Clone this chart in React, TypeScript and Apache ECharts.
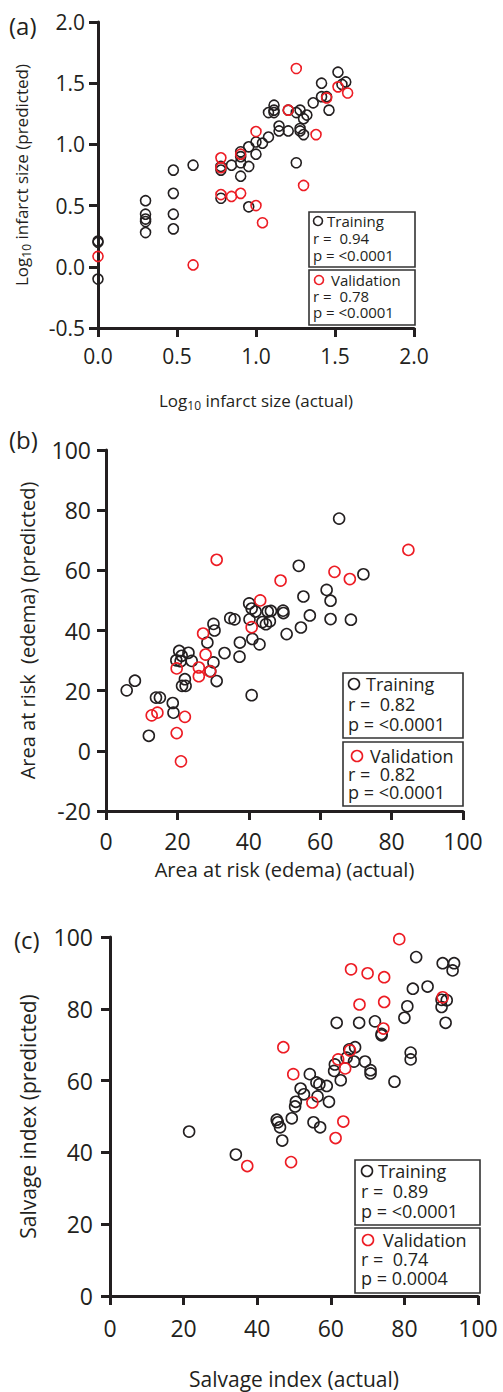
import React, { useEffect, useRef } from "react";
import * as echarts from "echarts";

const BLACK = "#231f20";
const RED = "#ed1c24";
const FONT = "'Open Sans', Lato, sans-serif";

const panelLabels = ["(a)", "(b)", "(c)"];

// ---------- Panel (a): log10 infarct size ----------
const aXTicks = [0, 0.5, 1.0, 1.5, 2.0];
const aYTicks = [-0.5, 0, 0.5, 1.0, 1.5, 2.0];
const aTraining: [number, number][] = [
  [0, 0.21], [0, 0.2], [0, -0.1],
  [0.301, 0.54], [0.301, 0.43], [0.301, 0.39], [0.301, 0.37], [0.301, 0.28],
  [0.477, 0.79], [0.477, 0.6], [0.477, 0.43], [0.477, 0.31],
  [0.602, 0.83],
  [0.778, 0.82], [0.778, 0.79], [0.778, 0.56],
  [0.845, 0.83],
  [0.903, 0.94], [0.903, 0.9], [0.903, 0.85], [0.903, 0.74],
  [0.954, 0.82], [0.954, 0.98], [0.954, 0.49],
  [1.0, 0.92], [1.0, 1.02], [1.041, 1.01], [1.079, 1.06], [1.079, 1.26],
  [1.114, 1.32], [1.114, 1.28], [1.114, 1.26],
  [1.146, 1.15], [1.146, 1.11], [1.204, 1.11], [1.204, 1.28],
  [1.255, 1.26], [1.279, 1.28], [1.301, 1.21], [1.322, 1.24],
  [1.279, 1.13], [1.279, 1.11], [1.301, 1.08], [1.255, 0.85],
  [1.362, 1.34], [1.415, 1.5], [1.415, 1.39], [1.447, 1.39], [1.462, 1.28],
  [1.519, 1.59], [1.544, 1.49], [1.568, 1.51],
];
const aValidation: [number, number][] = [
  [0, 0.085], [0.602, 0.015], [0.778, 0.59], [0.845, 0.575], [0.903, 0.6],
  [1.0, 0.5], [1.041, 0.36], [1.301, 0.665], [0.778, 0.89], [0.778, 0.81],
  [0.903, 0.92], [1.0, 1.105], [1.204, 1.28], [1.255, 1.62], [1.38, 1.08],
  [1.447, 1.38], [1.519, 1.47], [1.58, 1.42],
];
const aStats = { trainR: "0.94", trainP: "<0.0001", valR: "0.78", valP: "<0.0001" };

// ---------- Panel (b): area at risk ----------
const bXTicks = [0, 20, 40, 60, 80, 100];
const bYTicks = [-20, 0, 20, 40, 60, 80, 100];
const bTraining: [number, number][] = [
  [5.8, 20.1], [8.1, 23.3], [12.0, 5.0], [14.0, 17.7], [15.1, 17.7], [18.7, 15.9],
  [18.9, 12.7], [19.7, 30.1], [20.5, 33.2], [20.9, 29.8], [21.2, 31.6], [21.3, 21.6],
  [22.3, 21.6], [22.1, 23.8], [23.1, 32.6], [24.0, 29.9], [28.4, 36.0], [29.2, 26.5],
  [30.1, 29.4], [31.0, 23.2], [30.1, 42.2], [30.4, 40.0], [33.2, 32.5], [34.8, 44.1],
  [36.0, 43.7], [37.5, 36.0], [37.4, 31.3], [40.1, 49.0], [40.8, 47.3], [41.9, 46.3],
  [40.2, 43.7], [41.0, 37.2], [43.0, 35.4], [40.8, 18.5], [43.8, 42.8], [44.8, 42.1],
  [45.9, 43.1], [45.3, 46.3], [46.2, 46.5], [49.6, 46.6], [49.7, 45.8], [50.6, 38.8],
  [54.6, 41.0], [55.3, 51.3], [57.1, 45.0], [54.0, 61.5], [61.8, 53.5], [62.9, 49.9],
  [62.9, 43.8], [68.6, 43.6], [72.1, 58.7], [65.3, 77.2],
];
const bValidation: [number, number][] = [
  [12.8, 11.8], [14.4, 12.7], [19.8, 5.9], [21.0, -3.5], [22.1, 11.3], [19.8, 27.4],
  [26.0, 27.7], [26.0, 24.8], [27.9, 32.0], [27.2, 39.0], [29.2, 26.4], [31.0, 63.5],
  [40.8, 41.1], [43.2, 50.0], [48.9, 56.6], [64.0, 59.5], [68.3, 57.1], [84.7, 66.8],
];
const bStats = { trainR: "0.82", trainP: "<0.0001", valR: "0.82", valP: "<0.0001" };

// ---------- Panel (c): salvage index ----------
const cXTicks = [0, 20, 40, 60, 80, 100];
const cYTicks = [0, 20, 40, 60, 80, 100];
const cTraining: [number, number][] = [
  [21.5, 45.8], [34.2, 39.4], [45.3, 49.1], [45.6, 48.4], [46.2, 47.0], [46.8, 43.3],
  [49.4, 49.5], [50.3, 52.8], [50.5, 54.1], [51.8, 57.8], [52.7, 56.2], [54.3, 61.8],
  [55.3, 48.4], [57.1, 47.0], [56.4, 55.6], [59.5, 54.1], [58.9, 58.5], [56.9, 59.0],
  [56.1, 59.5], [61.6, 76.1], [60.9, 62.7], [61.1, 64.5], [62.7, 60.1], [64.3, 66.4],
  [65.0, 68.7], [66.6, 69.3], [66.3, 65.3], [69.3, 65.3], [70.8, 62.9], [70.8, 62.0],
  [67.7, 76.1], [72.0, 76.5], [73.8, 73.0], [73.8, 72.6], [77.3, 59.7], [81.7, 67.8],
  [81.7, 65.9], [80.0, 77.5], [80.8, 80.7], [82.3, 85.6], [86.3, 86.2], [83.2, 94.4],
  [90.4, 92.7], [93.5, 92.7], [93.1, 90.7], [90.1, 82.5], [91.5, 82.4], [90.1, 80.5],
  [91.2, 76.1],
];
const cValidation: [number, number][] = [
  [37.3, 36.2], [49.2, 37.3], [61.3, 44.0], [63.4, 48.6], [55.0, 53.9], [49.8, 61.8],
  [47.1, 69.3], [62.0, 65.9], [63.9, 63.4], [65.2, 68.4], [65.5, 91.0], [70.0, 89.9],
  [74.5, 88.8], [67.8, 81.2], [74.5, 81.9], [74.3, 74.5], [78.6, 99.4], [90.4, 83.2],
];
const cStats = { trainR: "0.89", trainP: "<0.0001", valR: "0.74", valP: "0.0004" };

const axisNames = {
  ax: "Log{sub|10} infarct size (actual)",
  ay: "Log{sub|10} infarct size (predicted)",
  bx: "Area at risk (edema) (actual)",
  by: "Area at risk  (edema) (predicted)",
  cx: "Salvage index (actual)",
  cy: "Salvage index (predicted)",
};

function makeAxis(gridIndex: number, ticks: number[], name: string, nameSize: number, nameGap: number, labelSize: number, labelMargin: number, decimals: number) {
  return {
    type: "value",
    gridIndex,
    min: ticks[0],
    max: ticks[ticks.length - 1],
    interval: ticks[1] - ticks[0],
    name,
    nameLocation: "middle",
    nameGap,
    nameTextStyle: {
      fontFamily: FONT,
      fontSize: nameSize,
      color: BLACK,
      lineHeight: nameSize + 4,
      rich: { sub: { fontFamily: FONT, fontSize: Math.round(nameSize * 0.68), lineHeight: Math.round(nameSize * 0.68), verticalAlign: "bottom", color: BLACK } },
    },
    axisLine: { show: true, onZero: false, lineStyle: { color: BLACK, width: 3 } },
    axisTick: { show: true, length: 9, lineStyle: { color: BLACK, width: 3 } },
    axisLabel: {
      fontFamily: FONT,
      fontSize: labelSize,
      color: BLACK,
      margin: labelMargin,
      showMinLabel: true,
      showMaxLabel: true,
      formatter: (v: number) => v.toFixed(decimals),
    },
    splitLine: { show: false },
  };
}

function scatter(xi: number, data: [number, number][], color: string, size: number) {
  return {
    type: "scatter",
    xAxisIndex: xi,
    yAxisIndex: xi,
    data,
    symbol: "circle",
    symbolSize: size,
    clip: false,
    itemStyle: { color: "rgba(0,0,0,0)", borderColor: color, borderWidth: 1.6, opacity: 1 },
    emphasis: { disabled: true },
  };
}

type Box = {
  x: number; y: number; w: number; h: number; font: number; r: number;
  circleX: number; titleX: number; textX: number; lines: number[];
  color: string; title: string; rText: string; pText: string;
};

function txt(x: number, y: number, text: string, size: number) {
  return {
    type: "text",
    silent: true,
    style: {
      x, y, text,
      font: `${size}px ${FONT}`,
      fill: BLACK,
      lineHeight: size,
      textAlign: "left",
      textVerticalAlign: "middle",
      align: "left",
      verticalAlign: "middle",
    },
  };
}

function legendBox(b: Box) {
  return [
    {
      type: "rect",
      silent: true,
      shape: { x: b.x, y: b.y, width: b.w, height: b.h },
      style: { fill: "#fff", stroke: "#333", lineWidth: 1.6 },
    },
    {
      type: "circle",
      silent: true,
      shape: { cx: b.circleX, cy: b.lines[0], r: b.r },
      style: { fill: "none", stroke: b.color, lineWidth: 1.6 },
    },
    txt(b.titleX, b.lines[0], b.title, b.font),
    txt(b.textX, b.lines[1], b.rText, b.font),
    txt(b.textX, b.lines[2], b.pText, b.font),
  ];
}

export default function App() {
  const ref = useRef<HTMLDivElement>(null);
  useEffect(() => {
    if (!ref.current) return;
    const chart = echarts.init(ref.current, undefined, { renderer: "svg" });
    const option: any = {
      animation: false,
      backgroundColor: "#fff",
      textStyle: { fontFamily: FONT },
      grid: [
        { left: 98, top: 22, width: 316, height: 306 },
        { left: 106, top: 450, width: 357, height: 361 },
        { left: 110, top: 937, width: 368, height: 361 },
      ],
      xAxis: [
        makeAxis(0, aXTicks, axisNames.ax, 17, 62, 21, 17, 1),
        makeAxis(1, bXTicks, axisNames.bx, 20, 46, 23, 18, 0),
        makeAxis(2, cXTicks, axisNames.cx, 21, 70, 23, 20, 0),
      ],
      yAxis: [
        makeAxis(0, aYTicks, axisNames.ay, 17, 66, 21, 13, 1),
        makeAxis(1, bYTicks, axisNames.by, 20, 67, 23, 15, 0),
        makeAxis(2, cYTicks, axisNames.cy, 21, 70, 23, 17, 0),
      ],
      series: [
        scatter(0, aTraining, BLACK, 10),
        scatter(0, aValidation, RED, 10),
        scatter(1, bTraining, BLACK, 11),
        scatter(1, bValidation, RED, 11),
        scatter(2, cTraining, BLACK, 11),
        scatter(2, cValidation, RED, 11),
      ],
      graphic: [
        txt(9, 25, panelLabels[0], 24),
        txt(9, 439, panelLabels[1], 24),
        txt(14, 939, panelLabels[2], 24),
        ...legendBox({ x: 309, y: 212, w: 106, h: 55, font: 15, r: 4.5, circleX: 318, titleX: 327, textX: 313, lines: [221, 238, 255], color: BLACK, title: "Training", rText: "r =  " + aStats.trainR, pText: "p = " + aStats.trainP }),
        ...legendBox({ x: 309, y: 270, w: 106, h: 55, font: 15, r: 4.5, circleX: 319, titleX: 331, textX: 313, lines: [280, 296, 312], color: RED, title: "Validation", rText: "r =  " + aStats.valR, pText: "p = " + aStats.valP }),
        ...legendBox({ x: 343, y: 673, w: 120, h: 65, font: 18, r: 5.5, circleX: 354, titleX: 366, textX: 348, lines: [684, 704, 724], color: BLACK, title: "Training", rText: "r =  " + bStats.trainR, pText: "p = " + bStats.trainP }),
        ...legendBox({ x: 343, y: 742, w: 120, h: 64, font: 18, r: 5.5, circleX: 357, titleX: 370, textX: 348, lines: [756, 774, 792], color: RED, title: "Validation", rText: "r =  " + bStats.valR, pText: "p = " + bStats.valP }),
        ...legendBox({ x: 355, y: 1160, w: 125, h: 65, font: 18, r: 5.5, circleX: 367, titleX: 378, textX: 361, lines: [1171, 1191, 1211], color: BLACK, title: "Training", rText: "r =  " + cStats.trainR, pText: "p = " + cStats.trainP }),
        ...legendBox({ x: 355, y: 1228, w: 125, h: 65, font: 18, r: 5.5, circleX: 368, titleX: 383, textX: 361, lines: [1240, 1259, 1278], color: RED, title: "Validation", rText: "r =  " + cStats.valR, pText: "p = " + cStats.valP }),
      ],
    };
    chart.setOption(option);
    return () => chart.dispose();
  }, []);
  return (
    <div
      ref={ref}
      style={{ position: "absolute", left: 0, top: 0, width: 503, height: 1392, background: "#fff" }}
    />
  );
}
